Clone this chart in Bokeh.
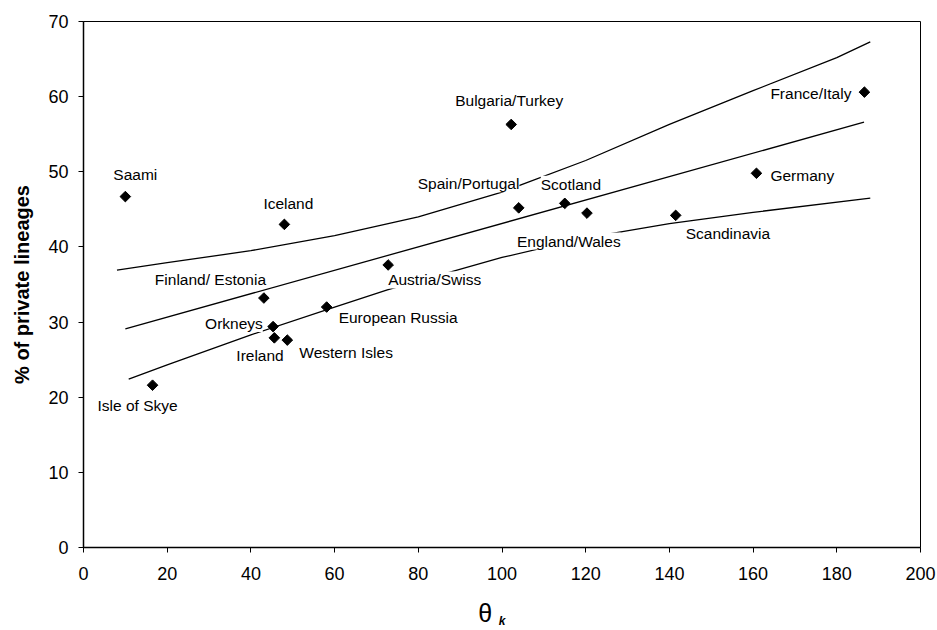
from bokeh.plotting import figure
from bokeh.models import (ColumnDataSource, LabelSet, Range1d, SingleIntervalTicker,
                          LinearAxis, FixedTicker)
from bokeh.core.properties import value
from bokeh.embed import file_html
from bokeh.resources import INLINE
import math

# ---- data ----
names = ["Saami", "Iceland", "Isle of Skye", "Bulgaria/Turkey", "Spain/Portugal",
         "Scotland", "England/Wales", "Scandinavia", "Germany", "France/Italy",
         "Finland/ Estonia", "Austria/Swiss", "Orkneys", "European Russia",
         "Ireland", "Western Isles"]
theta_k = [10.0, 48.0, 16.5, 102.2, 104.0, 115.0, 120.3, 141.5, 160.8, 186.6,
           43.1, 72.8, 45.3, 58.1, 45.6, 48.7]
private_pct = [46.7, 43.0, 21.6, 56.3, 45.2, 45.8, 44.5, 44.2, 49.8, 60.6,
               33.2, 37.6, 29.4, 32.0, 27.9, 27.6]

# regression line and confidence curves
fit_x = [10.0, 186.5]
fit_y = [29.1, 56.6]
upper_x = [8.0, 20.0, 40.0, 60.0, 80.0, 100.0, 120.0, 140.0, 160.0, 180.0, 188.0]
upper_y = [36.9, 37.9, 39.5, 41.5, 44.0, 47.3, 51.5, 56.3, 60.8, 65.2, 67.3]
lower_x = [10.8, 20.0, 40.0, 60.0, 72.6, 100.0, 120.0, 140.0, 160.0, 188.0]
lower_y = [22.4, 24.3, 28.3, 32.0, 34.3, 38.6, 41.2, 43.1, 44.6, 46.5]

x_ticks_step = 20
y_ticks_step = 10

# label placement (screen offsets, layout only)
label_dx = [-12, -21, -55, -56, -101, -24, -70, 10, 14, -94, -109, 0, -68, 12, -38, 12]
label_dy = [22, 21, -20, 24, 24, 19, -28, -18, -2, -1, 19, -15, 3, -10, -18, -12]

FONT = "Liberation Sans"

p = figure(width=937, height=630, output_backend="svg", toolbar_location=None,
           x_range=Range1d(0, 200), y_range=Range1d(0, 70),
           min_border_left=83, min_border_right=17, min_border_top=21, min_border_bottom=83)
p.background_fill_color = "white"
p.border_fill_color = "white"
p.outline_line_color = "black"
p.outline_line_width = 1
p.xgrid.grid_line_color = None
p.ygrid.grid_line_color = None

p.xaxis.ticker = SingleIntervalTicker(interval=x_ticks_step)
p.yaxis.ticker = SingleIntervalTicker(interval=y_ticks_step)
for ax in (p.xaxis[0], p.yaxis[0]):
    ax.minor_tick_line_color = None
    ax.major_tick_in = 0
    ax.major_tick_out = 5
    ax.axis_line_width = 1.5
    ax.axis_line_color = "black"
    ax.major_tick_line_color = "black"
    ax.major_label_text_font = FONT
    ax.major_label_text_font_size = "18px"
    ax.major_label_text_color = "black"
    ax.axis_label_text_font = FONT
    ax.axis_label_text_color = "black"

p.xaxis.major_label_standoff = 14
p.yaxis.major_label_standoff = 10
p.yaxis.axis_label = "% of private lineages"
p.yaxis.axis_label_text_font_size = "20px"
p.yaxis.axis_label_text_font_style = "bold"
p.yaxis.axis_label_standoff = 12

# x-axis title "θ" with subscript "k", done with a second, invisible axis
title_axis = LinearAxis(ticker=FixedTicker(ticks=[96]),
                        major_label_overrides={96: "θ"},
                        axis_line_color=None, major_tick_line_color=None,
                        minor_tick_line_color=None,
                        major_tick_in=0, major_tick_out=0,
                        major_label_standoff=16,
                        major_label_text_font=FONT, major_label_text_font_size="25px",
                        major_label_text_color="black",
                        axis_label="k", axis_label_text_font=FONT,
                        axis_label_text_font_size="12px",
                        axis_label_text_font_style="bold italic",
                        axis_label_text_color="black",
                        axis_label_standoff=-16)
p.add_layout(title_axis, "below")

p.line(upper_x, upper_y, line_color="black", line_width=1.3)
p.line(fit_x, fit_y, line_color="black", line_width=1.3)
p.line(lower_x, lower_y, line_color="black", line_width=1.3)

src = ColumnDataSource(dict(x=theta_k, y=private_pct, name=names, dx=label_dx, dy=label_dy))

labels = LabelSet(x="x", y="y", text="name", source=src, x_offset="dx", y_offset="dy",
                  text_font=value(FONT), text_font_size=value("15.5px"), text_color="black",
                  text_align="left", text_baseline="middle",
                  background_fill_color="white")
p.add_layout(labels)

sc = p.scatter("x", "y", source=src, marker="square", size=7.5, angle=math.pi / 4,
               fill_color="black", line_color="black", line_width=1)
sc.level = "overlay"

open("out.html", "w").write(file_html(p, INLINE))
